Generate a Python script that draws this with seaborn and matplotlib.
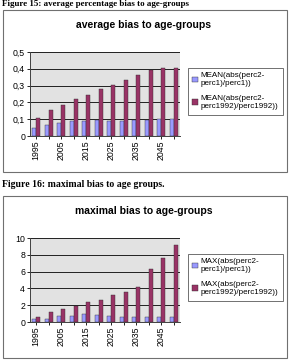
import matplotlib
matplotlib.use("Agg")
import matplotlib.pyplot as plt
import seaborn as sns
import pandas as pd
from matplotlib.patches import Rectangle

years = [1995, 2000, 2005, 2010, 2015, 2020, 2025, 2030, 2035, 2040, 2045, 2050]
avg_rel = [0.045, 0.065, 0.08, 0.09, 0.09, 0.095, 0.09, 0.09, 0.095, 0.095, 0.10, 0.10]
avg_1992 = [0.11, 0.155, 0.185, 0.22, 0.245, 0.28, 0.305, 0.335, 0.365, 0.395, 0.405, 0.405]
max_rel = [0.3, 0.4, 0.75, 0.75, 0.95, 0.85, 0.75, 0.65, 0.6, 0.6, 0.6, 0.65]
max_1992 = [0.65, 1.2, 1.55, 1.9, 2.35, 2.6, 3.2, 3.55, 4.15, 6.35, 7.65, 9.2]

avg_names = ["MEAN(abs(perc2-\nperc1)/perc1))", "MEAN(abs(perc2-\nperc1992)/perc1992))"]
max_names = ["MAX(abs(perc2-\nperc1)/perc1))", "MAX(abs(perc2-\nperc1992)/perc1992))"]
avg_ticks = ["0", "0,1", "0,2", "0,3", "0,4", "0,5"]
max_ticks = ["0", "2", "4", "6", "8", "10"]
xlabels = ["1995", "", "2005", "", "2015", "", "2025", "", "2035", "", "2045", ""]

colors = ["#9999FF", "#993366"]

W, H = 290, 360
fig = plt.figure(figsize=(W / 100, H / 100), dpi=100)
sans = ["Liberation Sans", "DejaVu Sans"]
serif = ["Liberation Serif", "DejaVu Serif"]


def fx(px):
    return px / W


def fy(py):
    return 1 - py / H


def box(x0, y0, x1, y1):
    fig.patches.append(Rectangle((fx(x0), fy(y1)), fx(x1) - fx(x0), fy(y0) - fy(y1),
                                 transform=fig.transFigure, fill=False,
                                 edgecolor="#707070", linewidth=0.8))


def chart(top, vals_a, vals_b, names, ticks, ymax, title):
    box(3, top, 287, top + 162)
    ax = fig.add_axes([fx(30), fy(top + 126), fx(180) - fx(30), (126 - 42) / H])
    df = pd.DataFrame({
        "year": [str(y) for y in years] * 2,
        "value": vals_a + vals_b,
        "series": [names[0]] * len(years) + [names[1]] * len(years),
    })
    sns.barplot(data=df, x="year", y="value", hue="series", palette=colors,
                ax=ax, width=0.62, edgecolor="#303030", linewidth=0.3, saturation=1)
    ax.set_facecolor("#E2E2E2")
    ax.set_ylim(0, ymax)
    ax.set_yticks([ymax * i / 5 for i in range(6)])
    ax.set_yticklabels(ticks, fontsize=6.3, family=sans)
    ax.set_xticks(range(len(years)))
    ax.set_xticklabels(xlabels, rotation=90, fontsize=6.3, family=sans)
    ax.set_xlim(-0.5, len(years) - 0.5)
    ax.set_xlabel("")
    ax.set_ylabel("")
    ax.yaxis.grid(True, color="#202020", linewidth=0.7)
    ax.set_axisbelow(True)
    for s in ["top", "right"]:
        ax.spines[s].set_visible(False)
    for s in ["left", "bottom"]:
        ax.spines[s].set_color("#404040")
        ax.spines[s].set_linewidth(0.7)
    ax.tick_params(length=2, width=0.6, pad=1.5)
    ax.get_legend().remove()
    handles = [Rectangle((0, 0), 1, 1, facecolor=c, edgecolor="#303030", linewidth=0.3) for c in colors]
    leg = fig.legend(handles, names, loc="upper left",
                     bbox_to_anchor=(fx(188), fy(top + 58)),
                     prop={"family": sans, "size": 5.8},
                     frameon=True, fancybox=False, edgecolor="#303030",
                     handlelength=0.7, handleheight=0.7, handletextpad=0.3,
                     borderpad=0.55, labelspacing=0.95, borderaxespad=0)
    leg.get_frame().set_linewidth(0.6)
    fig.text(fx(144), fy(top + 15), title, ha="center", va="center",
             fontsize=7.5, fontweight="bold", family=sans)


chart(10, avg_rel, avg_1992, avg_names, avg_ticks, 0.5, "average bias to age-groups")
chart(196, max_rel, max_1992, max_names, max_ticks, 10, "maximal bias to age-groups")

fig.text(fx(2), fy(8.5), "Figure 15: average percentage bias to age-groups",
         ha="left", va="bottom", fontsize=6.5, fontweight="bold", family=serif)
fig.text(fx(2), fy(185), "Figure 16: maximal bias to age groups.",
         ha="left", va="center", fontsize=7, fontweight="bold", family=serif)

fig.savefig("out.png", dpi=100)
